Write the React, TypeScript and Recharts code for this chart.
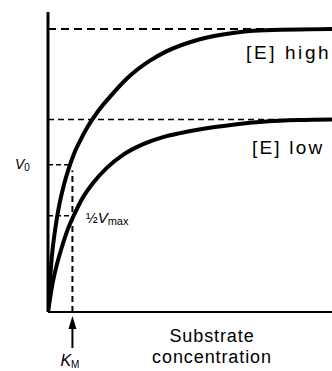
import { LineChart, Line, XAxis, YAxis, ReferenceLine, Label } from 'recharts';

// substrate concentration (x) and initial velocity (y)
const sHigh = [0, 0.7, 1.4, 2.5, 3.9, 5.5, 7.4, 9, 11.3, 13.7, 17.3, 21.8, 27.8, 35.9, 41.5, 53.2, 65.1, 74.3, 100];
const vHigh = [0, 11, 20, 29, 37.5, 44.5, 51, 55.5, 60.5, 65, 70.5, 76, 82.5, 88.8, 92, 96.3, 98.6, 99.5, 100];
const sLow = [0, 1.4, 2.8, 4.6, 6.7, 9.5, 12.3, 15.8, 20.8, 26.4, 33.5, 40.5, 46.5, 53.2, 65.1, 76.8, 88.4, 100];
const vLow = [0, 9, 15.5, 22, 28.5, 35, 40.5, 45.5, 51, 55.5, 59.3, 61.8, 63.2, 64.5, 66.2, 67.3, 67.8, 68];

const vmaxHigh = 100;
const vmaxLow = 68;
const halfHigh = 52;
const halfLow = 34;
const km = 8.6;

const highData = sHigh.map((s, i) => ({ s, v: vHigh[i] }));
const lowData = sLow.map((s, i) => ({ s, v: vLow[i] }));

const FONT = '"Liberation Sans", Arial, sans-serif';

export default function App() {
  return (
    <div style={{ position: 'absolute', left: 0, top: 0, background: '#fff' }}>
      <LineChart width={332} height={371} margin={{ top: 12, right: 0, bottom: 59, left: 48 }}>
        <XAxis type="number" dataKey="s" domain={[0, 100]} allowDataOverflow hide />
        <YAxis type="number" domain={[0, 106]} allowDataOverflow hide />

        {/* axes */}
        <ReferenceLine x={0} stroke="#000" strokeWidth={3}>
          <Label
            content={({ viewBox }: any) => (
              <text x={viewBox.x - 33} y={viewBox.y + 157} fontFamily={FONT} fill="#000">
                <tspan fontSize={14} fontStyle="italic">V</tspan>
                <tspan fontSize={10} dy={2}>0</tspan>
              </text>
            )}
          />
        </ReferenceLine>
        <ReferenceLine y={0} stroke="#000" strokeWidth={2}>
          <Label
            content={({ viewBox }: any) => {
              const cx = viewBox.x + 164;
              return (
                <text fontFamily={FONT} fill="#000" fontSize={18} textAnchor="middle" letterSpacing={0.9}>
                  <tspan x={cx} y={viewBox.y + 30}>Substrate</tspan>
                  <tspan x={cx} dy={21}>concentration</tspan>
                </text>
              );
            }}
          />
        </ReferenceLine>

        <ReferenceLine y={vmaxHigh} stroke="#000" strokeWidth={2} strokeDasharray="8 5">
          <Label
            content={({ viewBox }: any) => (
              <text x={viewBox.x + 198} y={viewBox.y + 30} fontFamily={FONT} fontSize={19} letterSpacing={2.6} fill="#000">
                [E] high
              </text>
            )}
          />
        </ReferenceLine>
        <ReferenceLine y={vmaxLow} stroke="#000" strokeWidth={1.5} strokeDasharray="6 4">
          <Label
            content={({ viewBox }: any) => (
              <text x={viewBox.x + 204} y={viewBox.y + 34} fontFamily={FONT} fontSize={19} letterSpacing={2.2} fill="#000">
                [E] low
              </text>
            )}
          />
        </ReferenceLine>
        <ReferenceLine
          segment={[{ x: 0, y: halfHigh }, { x: km - 1, y: halfHigh }]}
          stroke="#000"
          strokeWidth={1.5}
          strokeDasharray="5 3"
        />
        <ReferenceLine
          segment={[{ x: 0, y: halfLow }, { x: km, y: halfLow }]}
          stroke="#000"
          strokeWidth={1.5}
          strokeDasharray="5 3"
        >
          <Label
            content={({ viewBox }: any) => (
              <text x={viewBox.x + 38} y={viewBox.y + 7} fontFamily={FONT} fill="#000">
                <tspan fontSize={14}>½</tspan>
                <tspan fontSize={15} fontStyle="italic">V</tspan>
                <tspan fontSize={11} dy={2}>max</tspan>
              </text>
            )}
          />
        </ReferenceLine>
        <ReferenceLine
          segment={[{ x: km, y: 0 }, { x: km, y: 50 }]}
          stroke="#000"
          strokeWidth={2}
          strokeDasharray="6 4"
        >
          <Label
            content={({ viewBox }: any) => {
              const ax = viewBox.x;
              const base = viewBox.y + viewBox.height;
              return (
                <g fill="#000">
                  <line x1={ax} y1={base + 12} x2={ax} y2={base + 36} stroke="#000" strokeWidth={2} />
                  <polygon points={`${ax},${base + 4} ${ax - 4},${base + 17} ${ax + 4},${base + 17}`} />
                  <text x={ax - 12} y={base + 54} fontFamily={FONT}>
                    <tspan fontSize={16} fontStyle="italic">K</tspan>
                    <tspan fontSize={10} dy={2}>M</tspan>
                  </text>
                </g>
              );
            }}
          />
        </ReferenceLine>

        <Line
          data={highData}
          dataKey="v"
          type="monotone"
          stroke="#000"
          strokeWidth={4}
          dot={false}
          isAnimationActive={false}
        />
        <Line
          data={lowData}
          dataKey="v"
          type="monotone"
          stroke="#000"
          strokeWidth={4}
          dot={false}
          isAnimationActive={false}
        />
      </LineChart>
    </div>
  );
}
